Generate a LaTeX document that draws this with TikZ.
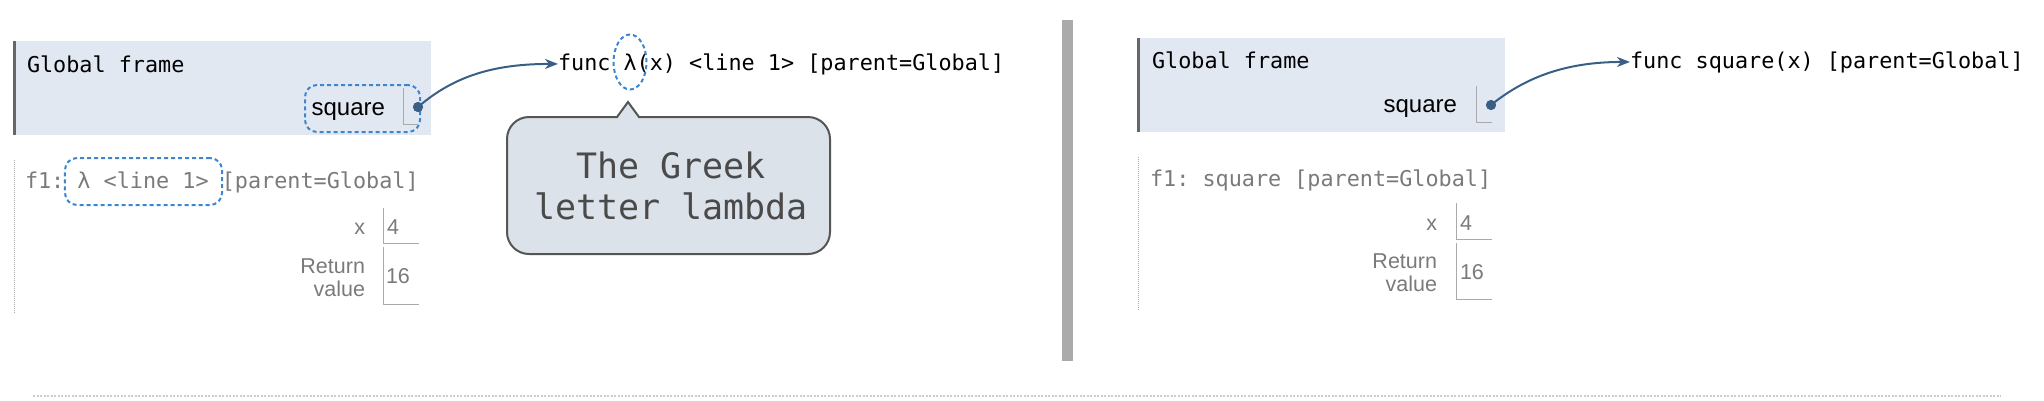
\documentclass[tikz,border=0pt]{standalone}
\usepackage{fontspec}
\setmonofont{DejaVu Sans Mono}
\setsansfont{Liberation Sans}
\usetikzlibrary{shapes.geometric,arrows.meta}
\definecolor{gfill}{HTML}{E2E8F2}
\definecolor{gbar}{HTML}{666666}
\definecolor{ptr}{HTML}{3A5F85}
\definecolor{hlblue}{HTML}{3B86CF}
\definecolor{graytxt}{HTML}{7A7A7A}
\definecolor{cellline}{HTML}{AAAAAA}
\definecolor{callfill}{HTML}{DCE2EA}
\definecolor{calldraw}{HTML}{555555}
\definecolor{calltxt}{HTML}{4A4A4A}
\definecolor{divgray}{HTML}{AAAAAA}
\definecolor{botline}{HTML}{CCCCCC}
\newcommand\monosz{\ttfamily\fontsize{21.8bp}{26bp}\selectfont}
\newcommand\monobig{\ttfamily\fontsize{35bp}{41bp}\selectfont}
\newcommand\sansbig{\sffamily\fontsize{24bp}{28bp}\selectfont}
\newcommand\sanssm{\sffamily\fontsize{21.5bp}{24bp}\selectfont}
\begin{document}
\begin{tikzpicture}[x=1bp,y=-1bp,
  every node/.style={inner sep=0pt, outer sep=0pt},
  gframe/.style={fill=gfill, anchor=north west},
  gedge/.style={draw=gbar, line width=3bp},
  fedge/.style={draw=cellline, line width=1bp, dash pattern=on 1bp off 1bp},
  code/.style={font=\monosz, text=black, anchor=base west},
  fcode/.style={font=\monosz, text=graytxt, anchor=base west},
  varname/.style={font=\sansbig, text=black, anchor=base east},
  lbl/.style={font=\sanssm, text=graytxt, anchor=base east},
  val/.style={font=\sanssm, text=graytxt, anchor=base west},
  cell/.style={draw=cellline, line width=1bp},
  ptrdot/.style={circle, fill=ptr, minimum size=10bp},
  ptrline/.style={draw=ptr, line width=2bp, -{Stealth[length=13bp,width=10bp,inset=4bp]}},
  hlbox/.style={draw=hlblue, line width=2bp, dash pattern=on 4bp off 3bp, rounded corners=12bp},
  hlell/.style={draw=hlblue, line width=2bp, dash pattern=on 4bp off 3bp, ellipse},
  callbox/.style={fill=callfill, draw=calldraw, line width=2bp, rounded corners=22bp},
  calltext/.style={font=\monobig, text=calltxt, anchor=base},
  divider/.style={fill=divgray},
  bottomline/.style={draw=botline, line width=2bp, dash pattern=on 2bp off 1.5bp}
]
\useasboundingbox (0,0) rectangle (2044,400);

% ---------------- left panel ----------------
\node[gframe, minimum width=417bp, minimum height=94bp] (gL) at (14,41) {};
\draw[gedge] (gL.north west) -- (gL.south west);
\node[code] (gtL) at (27,72) {Global frame};
\node[varname] (sqL) at (385,115) {square};
\draw[cell] (403,88) -- (403,124) -- (418,124);
\node[hlbox, minimum width=115bp, minimum height=47bp] (hlsqL) at (362.5,108.5) {};

\node[code] (funcL) at (558,70) {func λ(x) <line 1> [parent=Global]};
\node[hlell, minimum width=33bp, minimum height=55bp] (hllam) at (630,62) {};

\node[ptrdot] (dotL) at (418,107) {};
\draw[ptrline] (dotL.center) .. controls +(37,-32) and +(-62,0) .. (funcL.west);
\node[ptrdot] at (418,107) {};

% f1 frame left
\coordinate (fLtop) at (14,160);
\coordinate (fLbot) at (14,313);
\draw[fedge] (fLtop) -- (fLbot);
\node[fcode] (f1L) at (25,188) {f1: λ <line 1> [parent=Global]};
\node[hlbox, minimum width=157bp, minimum height=47bp] (hlf1) at (143.5,181.5) {};
\node[lbl] (xL) at (365,234.5) {x};
\draw[cell] (383,208) -- (383,243) -- (419,243);
\node[val] (x4L) at (387,234.5) {4};
\node[lbl] (retL) at (365,273) {Return};
\node[lbl] (valL) at (365,296.5) {value};
\draw[cell] (383,247) -- (383,304) -- (419,304);
\node[val] (r16L) at (386,283) {16};

% callout
\node[callbox, minimum width=323bp, minimum height=137bp] (call) at (668.5,185.5) {};
\coordinate (tipA) at (617,117);
\coordinate (tipB) at (628,102);
\coordinate (tipC) at (639,117);
\fill[callfill] (618,119) -- (618,116) -- (628,103.5) -- (638,116) -- (638,119) -- cycle;
\draw[draw=calldraw, line width=2bp, line join=miter] (tipA) -- (tipB) -- (tipC);
\node[calltext] (ct1) at (671,178) {The Greek};
\node[calltext] (ct2) at (671,219) {letter lambda};

% divider
\node[divider, minimum width=11bp, minimum height=341bp] (div) at (1067.5,190.5) {};

% ---------------- right panel ----------------
\node[gframe, minimum width=367bp, minimum height=94bp] (gR) at (1138,38) {};
\draw[gedge] (gR.north west) -- (gR.south west);
\node[code] (gtR) at (1152,68) {Global frame};
\node[varname] (sqR) at (1457,112) {square};
\draw[cell] (1476,86) -- (1476,122) -- (1492,122);

\node[code] (funcR) at (1630,68) {func square(x) [parent=Global]};
\node[ptrdot] (dotR) at (1491,105) {};
\draw[ptrline] (dotR.center) .. controls +(37,-30) and +(-60,0) .. (funcR.west);
\node[ptrdot] at (1491,105) {};

\coordinate (fRtop) at (1138,157);
\coordinate (fRbot) at (1138,310);
\draw[fedge] (fRtop) -- (fRbot);
\node[fcode] (f1R) at (1150,186) {f1: square [parent=Global]};
\node[lbl] (xR) at (1437,230) {x};
\draw[cell] (1456,203) -- (1456,239) -- (1492,239);
\node[val] (x4R) at (1460,230) {4};
\node[lbl] (retR) at (1437,268.3) {Return};
\node[lbl] (valR) at (1437,291.7) {value};
\draw[cell] (1456,243) -- (1456,299) -- (1492,299);
\node[val] (r16R) at (1460,279.3) {16};

% bottom dotted rule
\coordinate (bl1) at (33,396);
\coordinate (bl2) at (2001,396);
\draw[bottomline] (bl1) -- (bl2);
\end{tikzpicture}
\end{document}
